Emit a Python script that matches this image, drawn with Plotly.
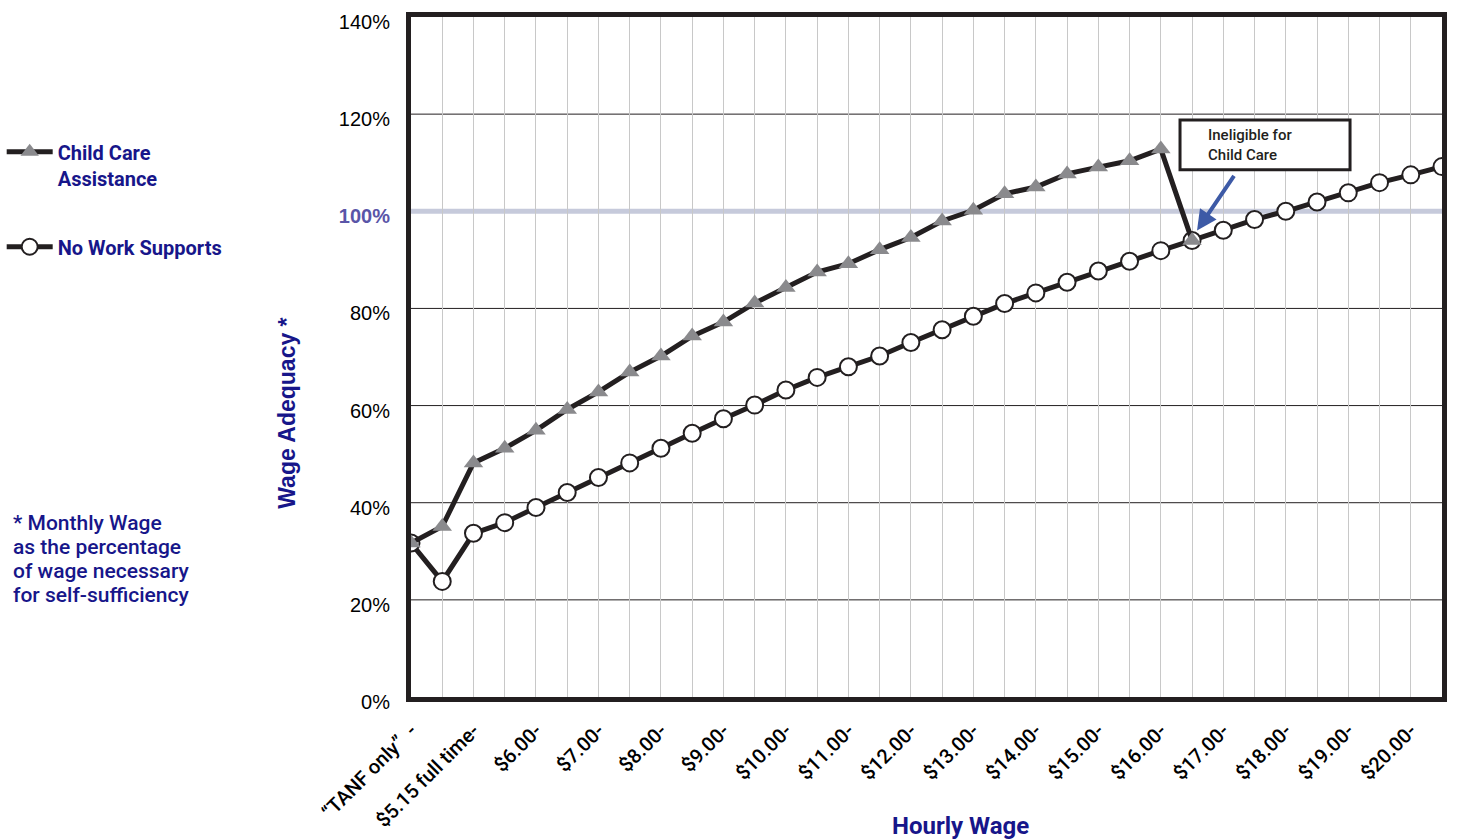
import plotly.graph_objects as go

# Hourly wage steps (x categories)
wages = ["“TANF only”", "$5.15 part time", "$5.15 full time", "$5.50",
         "$6.00", "$6.50", "$7.00", "$7.50", "$8.00", "$8.50", "$9.00", "$9.50",
         "$10.00", "$10.50", "$11.00", "$11.50", "$12.00", "$12.50", "$13.00",
         "$13.50", "$14.00", "$14.50", "$15.00", "$15.50", "$16.00", "$16.50",
         "$17.00", "$17.50", "$18.00", "$18.50", "$19.00", "$19.50", "$20.00",
         "$20.50"]

# Wage adequacy (%) with child care assistance, until eligibility ends
child_care = [31.7, 35.1, 48.2, 51.2, 54.9, 59.2, 62.8, 66.9, 70.2, 74.3,
              77.2, 81.1, 84.3, 87.5, 89.2, 92.1, 94.6, 98.0, 100.2, 103.6,
              105.0, 107.7, 109.1, 110.4, 112.8, 94.0]

# Wage adequacy (%) with no work supports
no_supports = [31.7, 23.8, 33.7, 35.9, 39.0, 42.1, 45.2, 48.2, 51.2, 54.3,
               57.3, 60.1, 63.2, 65.8, 68.0, 70.2, 73.0, 75.6, 78.4, 81.0,
               83.2, 85.4, 87.7, 89.7, 91.9, 94.0, 96.1, 98.3, 100.0, 101.9,
               103.8, 105.9, 107.5, 109.2]

# Axis labels
x_tick_text = ["“TANF only”  -", "", "$5.15 full time-", "", "$6.00-", "",
               "$7.00-", "", "$8.00-", "", "$9.00-", "", "$10.00-", "",
               "$11.00-", "", "$12.00-", "", "$13.00-", "", "$14.00-", "",
               "$15.00-", "", "$16.00-", "", "$17.00-", "", "$18.00-", "",
               "$19.00-", "", "$20.00-", ""]
y_tick_vals = [0, 20, 40, 60, 80, 100, 120, 140]
y_tick_text = ["0%", "20%", "40%", "60%", "80%",
               "<b><span style='color:#5a55a8'>100%</span></b>", "120%", "140%"]
y_grid_vals = [20, 40, 60, 80, 120]

footnote_lines = ["* Monthly Wage", "as the percentage",
                  "of wage necessary", "for self-sufficiency"]

NAVY = "#17168a"
INK = "#231f20"
SANS = "Roboto, sans-serif"

fig = go.Figure()

fig.add_trace(go.Scatter(
    x=wages, y=no_supports, mode="lines+markers", name="No Work Supports",
    legendgroup="nw", legendrank=2,
    line=dict(color=INK, width=5),
    marker=dict(symbol="circle", size=17, color="white",
                line=dict(color=INK, width=2)),
))
fig.add_trace(go.Scatter(
    x=wages[:len(child_care)], y=child_care, mode="lines+markers",
    name="Child Care<br>Assistance", legendgroup="cc", legendrank=1,
    line=dict(color=INK, width=5),
    marker=dict(symbol="triangle-up", size=17, color="#8a8a8d",
                line=dict(width=0)),
))

# Horizontal grid lines, then the self-sufficiency line at 100%
for g in y_grid_vals:
    fig.add_shape(type="line", xref="paper", x0=0, x1=1, yref="y", y0=g, y1=g,
                  line=dict(color=INK, width=1), layer="below")
fig.add_shape(type="line", xref="paper", x0=-0.003, x1=1, yref="y", y0=100, y1=100,
              line=dict(color="#c6cadb", width=5), layer="below")

# Callout box with arrow to the point where child care eligibility ends
fig.add_shape(type="rect", xref="paper", yref="paper",
              x0=0.7459, x1=0.9108, y0=0.7753, y1=0.8487,
              line=dict(color=INK, width=3), fillcolor="white", layer="above")
fig.add_annotation(xref="paper", yref="paper", x=0.7711, y=0.8120,
                   xanchor="left", yanchor="middle", align="left",
                   text="Ineligible for<br>Child Care", showarrow=False,
                   font=dict(family=SANS, size=15, color=INK, weight=500))
fig.add_annotation(xref="paper", yref="paper", x=0.7624, y=0.6862,
                   text="", showarrow=True, ax=38, ay=-56,
                   arrowhead=2, arrowsize=1, arrowwidth=4, arrowcolor="#3d5aa6")

# Axis titles
fig.add_annotation(xref="paper", yref="paper", x=-0.1203, y=0.4180,
                   text="<b>Wage Adequacy *</b>", textangle=-90, showarrow=False,
                   xanchor="center", yanchor="middle",
                   font=dict(family="Liberation Sans, Arial, sans-serif",
                             size=23, color=NAVY))
fig.add_annotation(xref="paper", yref="paper", x=0.5325, y=-0.1897,
                   text="<b>Hourly Wage</b>", showarrow=False,
                   xanchor="center", yanchor="middle",
                   font=dict(family=SANS, size=24, color=NAVY))

# Footnote, one annotation per line
for i, line in enumerate(footnote_lines):
    fig.add_annotation(xref="paper", yref="paper", x=-0.388,
                       y=(697 - 523 - 24 * i) / 680,
                       xanchor="left", yanchor="middle", align="left",
                       text=line, showarrow=False,
                       font=dict(family=SANS, size=21, color=NAVY, weight=500))

fig.update_layout(
    width=1460, height=840,
    margin=dict(l=411, r=18, t=17, b=143, autoexpand=False),
    paper_bgcolor="white", plot_bgcolor="white",
    showlegend=True,
    legend=dict(x=-0.397, y=0.8305, xanchor="left", yanchor="top",
                valign="top", tracegroupgap=40, itemwidth=46,
                bgcolor="rgba(0,0,0,0)",
                font=dict(family=SANS, size=20, color=NAVY, weight=700)),
    xaxis=dict(
        type="category", categoryorder="array", categoryarray=wages,
        range=[0, len(wages) - 1],
        tickmode="array", tickvals=wages, ticktext=x_tick_text,
        tickangle=-45, ticks="outside", ticklen=9, tickcolor="rgba(0,0,0,0)",
        tickfont=dict(family=SANS, size=20, color="black", weight=500),
        showgrid=True, gridcolor="#c8c8c8", gridwidth=1,
        showline=True, linecolor=INK, linewidth=5, mirror=True,
        zeroline=False,
    ),
    yaxis=dict(
        range=[0, 140], tickmode="array", tickvals=y_tick_vals,
        ticktext=y_tick_text,
        ticks="outside", ticklen=12, tickcolor="rgba(0,0,0,0)",
        ticklabelshift=5,
        tickfont=dict(family="Liberation Sans, Arial, sans-serif", size=20,
                      color="black"),
        showgrid=False,
        showline=True, linecolor=INK, linewidth=5, mirror=True,
        zeroline=False,
    ),
)

fig.write_html("out.html")
